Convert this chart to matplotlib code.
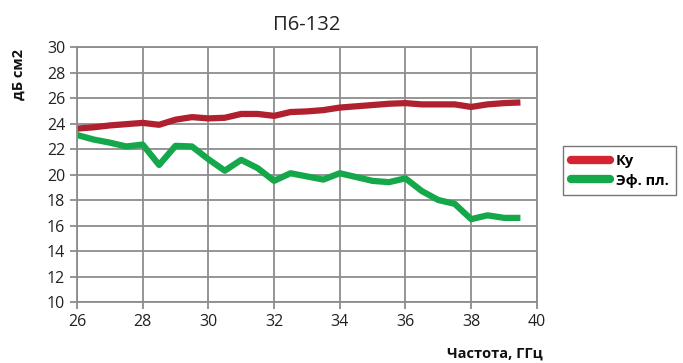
import matplotlib
matplotlib.use('Agg')
from matplotlib import pyplot as plt

plt.rcParams['font.family'] = ['Open Sans', 'DejaVu Sans']

# Frequency, GHz
freq = [26.0, 26.5, 27.0, 27.5, 28.0, 28.5, 29.0, 29.5, 30.0, 30.5,
        31.0, 31.5, 32.0, 32.5, 33.0, 33.5, 34.0, 34.5, 35.0, 35.5,
        36.0, 36.5, 37.0, 37.5, 38.0, 38.5, 39.0, 39.5]

# Ку
ku = [23.6, 23.7, 23.85, 23.95, 24.05, 23.9, 24.3, 24.5, 24.4, 24.45,
      24.75, 24.75, 24.6, 24.9, 24.95, 25.05, 25.25, 25.35, 25.45, 25.55,
      25.6, 25.5, 25.5, 25.5, 25.3, 25.5, 25.6, 25.65]

# Эф. пл.
ef = [23.1, 22.75, 22.5, 22.2, 22.35, 20.75, 22.25, 22.2, 21.2, 20.3,
      21.15, 20.5, 19.5, 20.1, 19.85, 19.6, 20.1, 19.8, 19.5, 19.4,
      19.7, 18.7, 18.0, 17.7, 16.5, 16.8, 16.6, 16.6]

xticks = [26, 28, 30, 32, 34, 36, 38, 40]
yticks = [10, 12, 14, 16, 18, 20, 22, 24, 26, 28, 30]

fig = plt.figure(figsize=(6.83, 3.63), dpi=100)
ax = fig.add_axes([0.1127, 0.168, 0.6733, 0.7025])

ax.plot(freq, ku, color='#B0202F', lw=4.5, solid_capstyle='butt', solid_joinstyle='round', label='Ку')
ax.plot(freq, ef, color='#14A84A', lw=4.5, solid_capstyle='butt', solid_joinstyle='round', label='Эф. пл.')

ax.set_xlim(26, 40)
ax.set_ylim(10, 30)
ax.set_xticks(xticks)
ax.set_yticks(yticks)
ax.grid(True, color='#8C8C8C', lw=1.3)
ax.set_axisbelow(True)
for s in ax.spines.values():
    s.set_color('#8C8C8C')
    s.set_linewidth(1.3)
ax.tick_params(direction='out', length=5, width=1.3, color='#8C8C8C',
               labelsize=11.5, labelcolor='#222222')

ax.set_title('П6-132', fontsize=14.5, color='#222222', pad=12)
fig.text(0.027, 0.795, 'дБ см2', rotation=90, ha='center', va='center',
         fontsize=10.5, fontweight='bold', color='#111111')
fig.text(0.725, 0.025, 'Частота, ГГц', ha='center', va='center',
         fontsize=10.5, fontweight='bold', color='#111111')

leg = fig.legend(loc='center left', bbox_to_anchor=(0.825, 0.53), frameon=True,
                 fancybox=False, edgecolor='#555555',
                 handlelength=2.7, handletextpad=0.4, borderpad=0.5, labelspacing=0.4,
                 borderaxespad=0, prop={'weight': 'bold', 'size': 10.5})
leg.get_frame().set_linewidth(1.0)
leg.get_lines()[0].set_color('#D42431')
for l in leg.get_lines():
    l.set_linewidth(6)
    l.set_solid_capstyle('round')

plt.savefig('out.png', dpi=100)
